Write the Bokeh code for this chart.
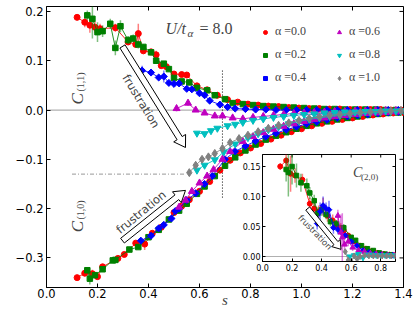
import math
from bokeh.plotting import figure
from bokeh.models import Range1d, FixedTicker, Label, Span, Legend, LegendItem
from bokeh.layouts import column
from bokeh.embed import file_html
from bokeh.resources import INLINE

# ---------------- data: main panel, C(1,1) (upper) ----------------
s11_a00 = [0.12,0.15,0.17,0.19,0.21,0.27,0.32,0.35,0.36,0.38,0.41,0.43,0.45,0.47,0.50,0.53,0.55,0.59,0.63,0.67,0.71,0.75,0.79,0.83,0.87,0.91,0.95,0.99,1.03,1.07,1.11,1.15,1.19,1.23,1.27,1.31,1.35,1.39]
c11_a00 = [0.188,0.178,0.172,0.168,0.165,0.167,0.138,0.133,0.155,0.120,0.118,0.112,0.090,0.088,0.073,0.072,0.071,0.049,0.041,0.030,0.021,0.016,0.012,0.010,0.008,0.007,0.005,0.004,0.003,0.003,0.002,0.002,0.001,0.001,0.001,0.001,0.000,0.000]
e11_a00 = [0.006,0.010,0.015,0.012,0.010,0.008,0.006,0.005,0.020,0.006,0.006,0.008,0.005,0.006,0.004,0.004]

s11_a02 = [0.16,0.18,0.20,0.22,0.25,0.27,0.29,0.32,0.34,0.36,0.38,0.41,0.43,0.46,0.48,0.50,0.53,0.56,0.59,0.63,0.66,0.70,0.73,0.77,0.81,0.85,0.89,0.93,0.97,1.01,1.05,1.09,1.13,1.17,1.21,1.25,1.29,1.33,1.37]
c11_a02 = [0.192,0.185,0.158,0.160,0.175,0.126,0.170,0.142,0.145,0.133,0.128,0.117,0.100,0.094,0.083,0.065,0.058,0.056,0.045,0.040,0.030,0.022,0.014,0.012,0.010,0.008,0.007,0.006,0.005,0.004,0.003,0.002,0.002,0.001,0.001,0.001,0.001,0.000,0.000]
e11_a02 = [0.010,0.040,0.020,0.012,0.010,0.015,0.012,0.008,0.008,0.008,0.006,0.006,0.006,0.005,0.005,0.004]

s11_a04 = [0.375,0.41,0.44,0.46,0.48,0.50,0.52,0.55,0.57,0.60,0.62,0.64,0.68,0.71,0.74,0.78,0.82,0.86,0.90,0.94,0.98,1.02,1.06,1.10,1.14,1.18,1.22,1.26,1.30,1.34,1.38]
c11_a04 = [0.080,0.076,0.066,0.068,0.055,0.053,0.054,0.043,0.042,0.034,0.030,0.019,0.011,0.006,0.003,0.002,0.001,0.001,0.000,0.000,0.000,0.000,0.000,0.000,0.000,0.000,0.000,0.000,0.000,0.000,0.000]
e11_a04 = [0.010,0.006,0.005,0.012,0.004,0.004,0.004,0.003]

s11_a06 = [0.51,0.555,0.585,0.62,0.66,0.69,0.73,0.77,0.81,0.85,0.89,0.93,0.97,1.01,1.05,1.09,1.13,1.17,1.21,1.25,1.29,1.33,1.37]
c11_a06 = [0.003,0.014,0.000,-0.006,-0.012,-0.012,-0.016,-0.018,-0.015,-0.013,-0.011,-0.009,-0.007,-0.006,-0.005,-0.004,-0.003,-0.003,-0.002,-0.002,-0.001,-0.001,-0.001]
e11_a06 = [0.006,0.006,0.004]

s11_a08 = [0.59,0.62,0.645,0.67,0.71,0.74,0.77,0.81,0.85,0.89,0.93,0.97,1.01,1.05,1.09,1.13,1.17,1.21,1.25,1.29,1.33,1.37,1.40]
c11_a08 = [-0.047,-0.048,-0.042,-0.037,-0.032,-0.029,-0.025,-0.021,-0.018,-0.015,-0.013,-0.011,-0.009,-0.008,-0.006,-0.005,-0.004,-0.004,-0.003,-0.003,-0.002,-0.002,-0.001]

# alpha = 1.0: C(1,1) and C(1,0) coincide
s_a10 = [0.56,0.585,0.61,0.635,0.66,0.69,0.72,0.755,0.79,0.83,0.87,0.91,0.95,0.99,1.03,1.07,1.11,1.15,1.19,1.23,1.27,1.31,1.35,1.39]
c_a10 = [-0.127,-0.112,-0.100,-0.095,-0.088,-0.078,-0.066,-0.058,-0.051,-0.044,-0.037,-0.031,-0.026,-0.021,-0.017,-0.014,-0.011,-0.009,-0.007,-0.005,-0.004,-0.003,-0.002,-0.001]

# ---------------- data: main panel, C(1,0) (lower) ----------------
s10_a00 = [0.12,0.15,0.18,0.20,0.22,0.28,0.305,0.35,0.385,0.415,0.45,0.50,0.53,0.56,0.60,0.64,0.68,0.72,0.76,0.80,0.84,0.88,0.92,0.96,1.00,1.04,1.08,1.12,1.16,1.20,1.24,1.28,1.32,1.36,1.40]
c10_a00 = [-0.340,-0.331,-0.332,-0.338,-0.318,-0.301,-0.293,-0.270,-0.272,-0.250,-0.238,-0.208,-0.195,-0.182,-0.165,-0.145,-0.122,-0.102,-0.087,-0.077,-0.068,-0.059,-0.051,-0.044,-0.038,-0.032,-0.027,-0.023,-0.019,-0.016,-0.013,-0.010,-0.008,-0.006,-0.005]
e10_a00 = [0.005,0.006,0.008,0.006,0.005,0.005,0.005,0.005,0.012,0.005]

s10_a02 = [0.16,0.17,0.19,0.22,0.26,0.27,0.325,0.36,0.40,0.44,0.48,0.52,0.55,0.59,0.62,0.66,0.70,0.74,0.78,0.82,0.86,0.90,0.94,0.98,1.02,1.06,1.10,1.14,1.18,1.22,1.26,1.30,1.34,1.38]
c10_a02 = [-0.325,-0.342,-0.335,-0.323,-0.305,-0.304,-0.283,-0.278,-0.258,-0.243,-0.222,-0.204,-0.190,-0.170,-0.155,-0.134,-0.113,-0.096,-0.082,-0.070,-0.060,-0.052,-0.045,-0.038,-0.032,-0.027,-0.023,-0.019,-0.016,-0.013,-0.010,-0.008,-0.006,-0.005]
e10_a02 = [0.006,0.012,0.006,0.005,0.005,0.005,0.004,0.004]

s10_a04 = [0.37,0.41,0.44,0.46,0.49,0.505,0.52,0.55,0.585,0.62,0.65,0.70,0.74,0.78,0.82,0.86,0.90,0.94,0.98,1.02,1.06,1.10,1.14,1.18,1.22,1.26,1.30,1.34,1.38]
c10_a04 = [-0.265,-0.255,-0.240,-0.233,-0.220,-0.205,-0.200,-0.183,-0.169,-0.150,-0.134,-0.100,-0.084,-0.073,-0.063,-0.054,-0.047,-0.040,-0.034,-0.028,-0.024,-0.020,-0.016,-0.013,-0.011,-0.009,-0.007,-0.005,-0.004]

s10_a06 = [0.52,0.545,0.57,0.60,0.63,0.655,0.69,0.72,0.77,0.81,0.85,0.89,0.93,0.97,1.01,1.05,1.09,1.13,1.17,1.21,1.25,1.29,1.33,1.37]
c10_a06 = [-0.197,-0.183,-0.165,-0.148,-0.134,-0.121,-0.100,-0.084,-0.064,-0.054,-0.046,-0.039,-0.033,-0.028,-0.023,-0.019,-0.016,-0.013,-0.011,-0.009,-0.007,-0.006,-0.005,-0.004]

s10_a08 = [0.59,0.62,0.66,0.695,0.74,0.79,0.83,0.87,0.91,0.95,0.99,1.03,1.07,1.11,1.15,1.19,1.23,1.27,1.31,1.35,1.39]
c10_a08 = [-0.122,-0.112,-0.101,-0.085,-0.069,-0.056,-0.048,-0.040,-0.034,-0.028,-0.023,-0.019,-0.016,-0.013,-0.011,-0.009,-0.007,-0.005,-0.004,-0.003,-0.002]

# ---------------- data: inset, C(2,0) ----------------
s20_a00 = [0.12,0.16,0.19,0.22,0.27,0.32,0.35,0.38,0.41,0.44,0.475,0.50,0.53,0.55,0.58,0.62,0.66,0.70,0.74,0.78,0.82,0.86,0.90]
c20_a00 = [0.150,0.160,0.138,0.135,0.128,0.088,0.080,0.075,0.083,0.068,0.060,0.052,0.048,0.043,0.035,0.025,0.018,0.013,0.009,0.006,0.004,0.003,0.002]
e20_a00 = [0.006,0.020,0.030,0.012,0.010,0.010,0.012,0.010,0.015,0.010,0.010,0.008,0.008,0.006]

s20_a02 = [0.16,0.175,0.20,0.23,0.26,0.30,0.32,0.35,0.375,0.40,0.43,0.46,0.50,0.55,0.60,0.63,0.67,0.71,0.75,0.79,0.83,0.87]
c20_a02 = [0.145,0.140,0.150,0.135,0.123,0.118,0.106,0.093,0.072,0.078,0.070,0.058,0.055,0.048,0.032,0.027,0.018,0.013,0.010,0.006,0.004,0.003]
e20_a02 = [0.020,0.040,0.030,0.020,0.015,0.012,0.010,0.010,0.010,0.010,0.008,0.008,0.006,0.006]

s20_a04 = [0.37,0.39,0.41,0.43,0.45,0.48,0.51,0.53,0.56,0.60,0.64,0.68,0.72,0.76,0.80,0.84,0.88]
c20_a04 = [0.055,0.075,0.085,0.080,0.078,0.048,0.045,0.042,0.035,0.025,0.018,0.010,0.007,0.004,0.003,0.002,0.002]
e20_a04 = [0.010,0.015,0.015,0.010,0.015,0.010,0.008,0.006]

s20_a06 = [0.51,0.53,0.54,0.555,0.58,0.61,0.65,0.69,0.73,0.77,0.81,0.85,0.89]
c20_a06 = [0.068,0.040,0.032,0.020,0.025,0.015,0.010,0.008,0.005,0.004,0.003,0.002,0.002]
e20_a06 = [0.010,0.030,0.040,0.010,0.008,0.006]

s20_a08 = [0.59,0.62,0.65,0.68,0.71,0.74,0.77,0.80,0.83,0.86,0.89]
c20_a08 = [0.000,0.002,0.004,-0.002,0.003,0.003,0.002,0.002,0.002,0.002,0.002]

s20_a10 = [0.56,0.58,0.60,0.62,0.64,0.66,0.69,0.72,0.75,0.78,0.81,0.84,0.87,0.90]
c20_a10 = [0.008,-0.006,-0.008,0.001,-0.004,0.000,0.002,0.001,0.001,0.001,0.001,0.001,0.001,0.001]

alphas = ["0.0", "0.2", "0.4", "0.6", "0.8", "1.0"]
colors = ["#ff0000", "#008000", "#0000ff", "#bf00bf", "#00bfbf", "#808080"]
markers = ["circle", "square", "square", "triangle", "inverted_triangle", "diamond"]

x_ticks = [0.0, 0.2, 0.4, 0.6, 0.8, 1.0, 1.2, 1.4]
y_ticks = [-0.3, -0.2, -0.1, 0.0, 0.1, 0.2]
ix_ticks = [0.0, 0.2, 0.4, 0.6, 0.8]
iy_ticks = [0.0, 0.05, 0.10, 0.15]

SANS = "DejaVu Sans"
SERIF = "Liberation Serif"


def fmt(t, nd):
    return (("%." + str(nd) + "f") % t).replace("-", "\u2212")


def style_axis(ax, ticks, font, nd, tick_len):
    ax.ticker = FixedTicker(ticks=ticks)
    ax.major_tick_in = tick_len
    ax.major_tick_out = 0
    ax.minor_tick_line_color = None
    ax.axis_line_color = "black"
    ax.major_tick_line_color = "black"
    ax.major_label_text_font = SANS
    ax.major_label_text_font_size = font
    ax.major_label_text_color = "black"
    ax.major_label_standoff = 3
    ax.major_label_overrides = {t: fmt(t, nd) for t in ticks}


def mirror_ticks(fig, xt, yt, x0, x1, y0, y1, kx, ky, tick_len):
    # inward ticks on the top and right edges of the frame
    fig.segment(x0=xt, x1=xt, y0=[y1] * len(xt), y1=[y1 - tick_len / ky] * len(xt),
                line_color="black", line_width=1)
    fig.segment(x0=[x1] * len(yt), x1=[x1 - tick_len / kx] * len(yt), y0=yt, y1=yt,
                line_color="black", line_width=1)


def draw(fig, s, y, color, marker, size, err=None, angle=0.0):
    fig.line(s, y, line_color=color, line_width=1, line_alpha=0.85)
    if err:
        ss = s[:len(err)]
        yy = y[:len(err)]
        fig.segment(x0=ss, x1=ss, y0=[a - b for a, b in zip(yy, err)],
                    y1=[a + b for a, b in zip(yy, err)],
                    line_color=color, line_alpha=0.5, line_width=1.5)
    return fig.scatter(s, y, marker=marker, size=size, angle=angle,
                       fill_color=color, line_color=color)


def hollow_arrow(fig, x0, y0, x1, y1, kx, ky, hw, head_hw, head_len):
    dx = (x1 - x0) * kx
    dy = (y1 - y0) * ky
    L = math.hypot(dx, dy)
    ux, uy = dx / L, dy / L
    nx, ny = -uy, ux
    bx, by = dx - ux * head_len, dy - uy * head_len
    pts = [(nx * hw, ny * hw), (bx + nx * hw, by + ny * hw), (bx + nx * head_hw, by + ny * head_hw),
           (dx, dy), (bx - nx * head_hw, by - ny * head_hw), (bx - nx * hw, by - ny * hw),
           (-nx * hw, -ny * hw)]
    fig.patch([x0 + a / kx for a, b in pts], [y0 + b / ky for a, b in pts],
              fill_color="white", line_color="black", line_width=1)


# ---------------- main figure ----------------
W, H = 415, 312
BL, BR, BT, BB = 46, 12, 6, 25
X0, X1 = 0.0, 1.4
Y0, Y1 = -0.360, 0.210
p = figure(width=W, height=H, x_range=Range1d(X0, X1), y_range=Range1d(Y0, Y1),
           output_backend="svg", toolbar_location=None,
           min_border_left=BL, min_border_right=BR, min_border_top=BT, min_border_bottom=BB)
p.grid.visible = False
p.outline_line_color = "black"
p.outline_line_width = 1
p.background_fill_color = "white"
kx = (W - BL - BR) / (X1 - X0)
ky = (H - BT - BB) / (Y1 - Y0)

style_axis(p.xaxis[0], x_ticks, "11.5px", 1, 4)
style_axis(p.yaxis[0], y_ticks, "11.5px", 1, 4)
p.xaxis[0].major_label_standoff = 1
p.xaxis[0].axis_label = "s"
p.xaxis[0].axis_label_text_font = SERIF
p.xaxis[0].axis_label_text_font_style = "italic"
p.xaxis[0].axis_label_text_font_size = "15px"
p.xaxis[0].axis_label_standoff = -9
mirror_ticks(p, x_ticks, y_ticks, X0, X1, Y0, Y1, kx, ky, 4)

p.add_layout(Span(location=0, dimension="width", line_color="#b0b0b0", line_width=1.2, level="underlay"))

# guide lines
s_cross = 0.69
y_cross_top, y_cross_bot = 0.08, -0.18
y_meet = -0.13
s_meet0, s_meet1 = 0.10, 0.545
p.segment(x0=[s_cross], y0=[y_cross_top], x1=[s_cross], y1=[y_cross_bot],
          line_color="black", line_dash="1 2", line_width=1)
p.segment(x0=[s_meet0], y0=[y_meet], x1=[s_meet1], y1=[y_meet],
          line_color="#999999", line_dash="4 2 1 2", line_width=1)

sizes = [6, 5.5, 5, 7, 7, 8]
angles = [0, 0, math.pi / 4, 0, 0, 0]
upper = [(s11_a00, c11_a00, e11_a00), (s11_a02, c11_a02, e11_a02), (s11_a04, c11_a04, e11_a04),
         (s11_a06, c11_a06, e11_a06), (s11_a08, c11_a08, None), (s_a10, c_a10, None)]
lower = [(s10_a00, c10_a00, e10_a00), (s10_a02, c10_a02, e10_a02), (s10_a04, c10_a04, None),
         (s10_a06, c10_a06, None), (s10_a08, c10_a08, None)]

rends = []
for i in range(6):
    if i < 5:
        s, y, e = lower[i]
        draw(p, s, y, colors[i], markers[i], sizes[i], e, angles[i])
    s, y, e = upper[i]
    rends.append(draw(p, s, y, colors[i], markers[i], sizes[i], e, angles[i]))

hollow_arrow(p, 0.298, 0.129, 0.545, -0.076, kx, ky, 3, 7, 11)
hollow_arrow(p, 0.298, -0.265, 0.545, -0.163, kx, ky, 3, 7, 11)
p.add_layout(Label(x=0.371, y=0.018, text="frustration", angle=-58.5, angle_units="deg",
                   text_align="center", text_baseline="middle", text_font=SANS, text_font_size="11.5px"))
p.add_layout(Label(x=0.371, y=-0.207, text="frustration", angle=39.5, angle_units="deg",
                   text_align="center", text_baseline="middle", text_font=SANS, text_font_size="11.5px"))

# C labels
p.add_layout(Label(x=0.1216, y=0.011, text="C", angle=90, angle_units="deg", text_align="left",
                   text_baseline="alphabetic", text_font=SERIF, text_font_style="italic", text_font_size="17px"))
p.add_layout(Label(x=0.133, y=0.0376, text="(1,1)", angle=90, angle_units="deg", text_align="left",
                   text_baseline="alphabetic", text_font=SERIF, text_font_size="10px"))
p.add_layout(Label(x=0.1216, y=-0.248, text="C", angle=90, angle_units="deg", text_align="left",
                   text_baseline="alphabetic", text_font=SERIF, text_font_style="italic", text_font_size="17px"))
p.add_layout(Label(x=0.133, y=-0.222, text="(1,0)", angle=90, angle_units="deg", text_align="left",
                   text_baseline="alphabetic", text_font=SERIF, text_font_size="10px"))

# U/t_alpha = 8.0
p.add_layout(Label(x=0.467, y=0.165, text="U/t", text_font=SERIF, text_font_style="italic",
                   text_font_size="16px", text_baseline="alphabetic"))
p.add_layout(Label(x=0.467, y=0.165, x_offset=22, y_offset=-4, text="\u03b1", text_font=SERIF,
                   text_font_style="italic", text_font_size="11px", text_baseline="alphabetic"))
p.add_layout(Label(x=0.467, y=0.165, x_offset=34, text="= 8.0", text_font=SERIF,
                   text_font_size="16px", text_baseline="alphabetic"))

# legends (two columns)
for cols, loc in (([0, 1, 2], (214, 202)), ([3, 4, 5], (288, 202))):
    lg = Legend(items=[LegendItem(label="\u03b1 =" + alphas[i], renderers=[rends[i]]) for i in cols],
                location=loc, padding=0, margin=0, spacing=8, glyph_width=10, glyph_height=10,
                label_standoff=5, label_text_font=SERIF, label_text_font_size="12px",
                border_line_alpha=0, background_fill_alpha=0)
    p.add_layout(lg)

# ---------------- inset ----------------
IBL, IBR, IBT, IBB = 46, 12, 2, 24
IFW, IFH = 133, 107
IW, IH = IBL + IFW + IBR, IBT + IFH + IBB
IX0, IX1 = 0.0, 0.9
IY0, IY1 = -0.0083, 0.17
ins = figure(width=IW, height=IH, x_range=Range1d(IX0, IX1), y_range=Range1d(IY0, IY1),
             output_backend="svg", toolbar_location=None,
             min_border_left=IBL, min_border_right=IBR, min_border_top=IBT, min_border_bottom=IBB)
ins.grid.visible = False
ins.outline_line_color = "black"
ins.background_fill_color = "white"
ins.border_fill_alpha = 0
ikx = IFW / (IX1 - IX0)
iky = IFH / (IY1 - IY0)
style_axis(ins.xaxis[0], ix_ticks, "8px", 1, 3)
style_axis(ins.yaxis[0], iy_ticks, "8px", 2, 3)
ins.xaxis[0].major_label_standoff = 2
ins.yaxis[0].major_label_standoff = 2
mirror_ticks(ins, ix_ticks, iy_ticks, IX0, IX1, IY0, IY1, ikx, iky, 3)
ins.add_layout(Span(location=0, dimension="width", line_color="#b0b0b0", line_width=1.2, level="underlay"))

inset_series = [(s20_a00, c20_a00, e20_a00), (s20_a02, c20_a02, e20_a02), (s20_a04, c20_a04, e20_a04),
                (s20_a06, c20_a06, e20_a06), (s20_a08, c20_a08, None), (s20_a10, c20_a10, None)]
isizes = [5, 4.5, 4, 5.5, 5.5, 6]
for i, (s, y, e) in enumerate(inset_series):
    draw(ins, s, y, colors[i], markers[i], isizes[i], e, angles[i])

hollow_arrow(ins, 0.306, 0.080, 0.531, 0.012, ikx, iky, 2.5, 5.5, 8)
ins.add_layout(Label(x=0.356, y=0.0405, text="frustration", angle=-46, angle_units="deg",
                     text_align="center", text_baseline="middle", text_font=SANS, text_font_size="8.5px"))
ins.add_layout(Label(x=0.612, y=0.14, text="C", text_font=SERIF, text_font_style="italic",
                     text_font_size="14px", text_baseline="alphabetic"))
ins.add_layout(Label(x=0.666, y=0.1333, text="(2,0)", text_font=SERIF,
                     text_font_size="9px", text_baseline="alphabetic"))
ins.add_layout(Label(x=0.444, y=IY0, y_offset=-16, text="s", text_font=SERIF, text_font_style="italic",
                     text_font_size="11px", text_align="center", text_baseline="middle"))

INSET_FRAME_LEFT, INSET_FRAME_TOP = 262, 154
ins.margin = (INSET_FRAME_TOP - IBT - H, 0, 0, INSET_FRAME_LEFT - IBL)
layout = column(p, ins)
open("out.html", "w").write(file_html(layout, INLINE))
